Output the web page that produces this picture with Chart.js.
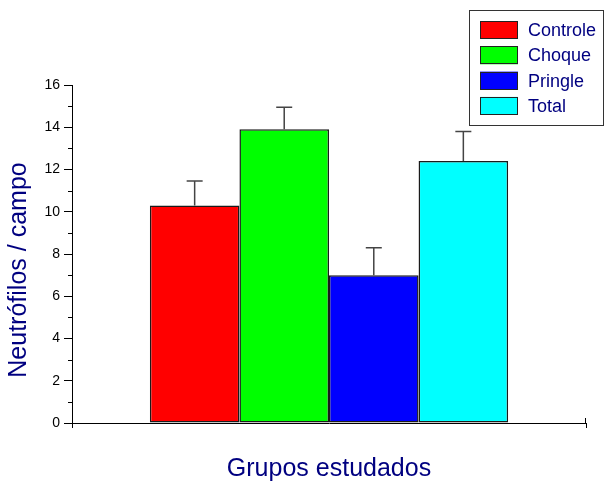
<!DOCTYPE html>
<html>
<head>
<meta charset="utf-8">
<script src="https://cdn.jsdelivr.net/npm/chart.js@4"></script>
<style>
  html, body { margin: 0; padding: 0; background: #fff; }
  #wrap { width: 604px; height: 482px; position: relative; }
</style>
</head>
<body>
<div id="wrap"><canvas id="chart_neutro"></canvas></div>
<script>
// data
const groups = ['Controle', 'Choque', 'Pringle', 'Total'];
const means = [10.3, 13.9, 7.0, 12.4];
const errors = [1.15, 1.05, 1.3, 1.4];
const colors = ['#ff0000', '#00ff00', '#0000ff', '#00ffff'];
const yTicks = [0, 2, 4, 6, 8, 10, 12, 14, 16];

const navy = '#000080';
const fontFamily = '"Liberation Sans", Arial, sans-serif';

// error bars, minor ticks, y title and the boxed legend
const extras = {
    id: 'extras',
    afterDatasetsDraw(chart) {
        const ctx = chart.ctx;
        const y = chart.scales.y;
        ctx.save();
        ctx.strokeStyle = '#444';
        ctx.lineWidth = 1.5;
        chart.data.datasets.forEach((ds, i) => {
            const bar = chart.getDatasetMeta(i).data[0];
            const top = y.getPixelForValue(ds.data[0] + ds.err);
            const base = y.getPixelForValue(ds.data[0]);
            ctx.beginPath();
            ctx.moveTo(bar.x, base);
            ctx.lineTo(bar.x, top);
            ctx.moveTo(bar.x - 8, top);
            ctx.lineTo(bar.x + 8, top);
            ctx.stroke();
        });
        ctx.restore();
    },
    afterDraw(chart) {
        const ctx = chart.ctx;
        const y = chart.scales.y;
        const area = chart.chartArea;
        ctx.save();

        // minor ticks
        ctx.strokeStyle = '#000';
        ctx.lineWidth = 1;
        for (let v = 1; v < 16; v += 2) {
            const py = Math.round(y.getPixelForValue(v)) + 0.5;
            ctx.beginPath();
            ctx.moveTo(area.left - 4, py);
            ctx.lineTo(area.left, py);
            ctx.stroke();
        }
        // upper half of the x axis end tick
        ctx.beginPath();
        ctx.moveTo(area.right - 0.5, area.bottom - 5);
        ctx.lineTo(area.right - 0.5, area.bottom);
        ctx.stroke();

        // y axis title
        ctx.fillStyle = navy;
        ctx.font = '25px ' + fontFamily;
        ctx.textAlign = 'center';
        ctx.textBaseline = 'middle';
        ctx.translate(19.5, 270);
        ctx.rotate(-Math.PI / 2);
        ctx.fillText('Neutrófilos / campo', 0, 0);
        ctx.setTransform(1, 0, 0, 1, 0, 0);

        // legend box
        ctx.strokeStyle = '#333';
        ctx.strokeRect(469.5, 10.5, 134, 115);
        ctx.font = '18px ' + fontFamily;
        ctx.textAlign = 'left';
        chart.data.datasets.forEach((ds, i) => {
            const top = 21 + i * 25.3;
            ctx.fillStyle = ds.backgroundColor;
            ctx.fillRect(480, top, 38, 18);
            ctx.strokeStyle = '#222';
            ctx.strokeRect(480.5, Math.round(top) + 0.5, 37, 17);
            ctx.fillStyle = navy;
            ctx.fillText(ds.label, 528, top + 10);
        });
        ctx.restore();
    }
};

new Chart(document.getElementById('chart_neutro'), {
    type: 'bar',
    data: {
        labels: [''],
        datasets: groups.map((g, i) => ({
            label: g,
            data: [means[i]],
            err: errors[i],
            backgroundColor: colors[i],
            borderColor: '#1a1a1a',
            borderWidth: 1.5,
            borderSkipped: false,
            categoryPercentage: 0.697,
            barPercentage: 1.0,
        })),
    },
    options: {
        responsive: true,
        maintainAspectRatio: false,
        animation: false,
        layout: { padding: { top: 85, right: 18, bottom: 0, left: 0 } },
        plugins: {
            legend: { display: false },
            tooltip: { enabled: false },
        },
        scales: {
            x: {
                ticks: { display: false },
                grid: {
                    display: true,
                    drawOnChartArea: false,
                    tickLength: 5,
                    color: '#000',
                },
                border: { color: '#000', width: 1 },
                title: {
                    display: true,
                    text: 'Grupos estudados',
                    color: navy,
                    font: { family: fontFamily, size: 25, lineHeight: 1 },
                    padding: 0,
                },
                afterFit(scale) { scale.height = 59; },
            },
            y: {
                min: 0,
                max: 16,
                afterBuildTicks(scale) {
                    scale.ticks = yTicks.map(v => ({ value: v }));
                },
                ticks: {
                    color: '#000',
                    padding: 4,
                    font: { family: fontFamily, size: 14 },
                },
                grid: {
                    display: true,
                    drawOnChartArea: false,
                    tickLength: 8,
                    color: '#000',
                },
                border: { color: '#000', width: 1 },
                afterFit(scale) { scale.width = 72; },
            },
        },
    },
    plugins: [extras],
});
</script>
</body>
</html>
